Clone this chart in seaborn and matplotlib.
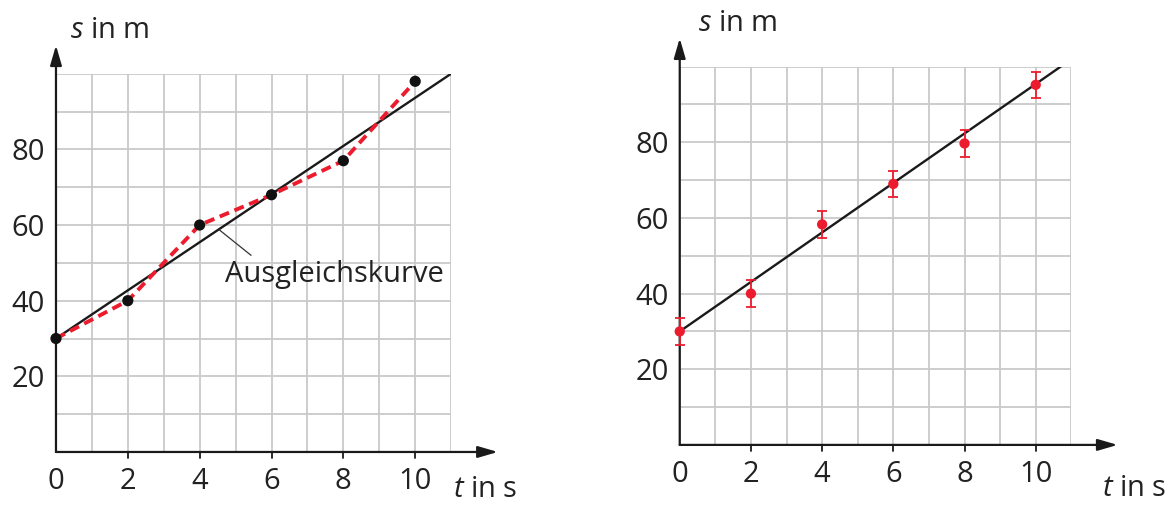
import matplotlib
matplotlib.use("Agg")
import matplotlib.pyplot as plt
import seaborn as sns
import pandas as pd

# left chart: measured points and straight fit
t_left = [0, 2, 4, 6, 8, 10]
s_left = [30, 40, 60, 68, 77, 98]
fit_left_t = [0, 11]
fit_left_s = [30, 100]

# right chart: points with error bars and fit
t_right = [0, 2, 4, 6, 8, 10]
s_right = [30, 40, 58.3, 69, 79.7, 95.2]
err_right = [3.5, 3.5, 3.5, 3.5, 3.5, 3.5]
fit_right_t = [0, 10.7]
fit_right_s = [30, 100]

x_ticks = [0, 2, 4, 6, 8, 10]
y_ticks = [20, 40, 60, 80]

RED = "#ec1c2e"
GRID = "#c9c9c9"
INK = "#222222"
FS = 21

sns.set_style("white")
plt.rcParams["font.family"] = ["Open Sans", "DejaVu Sans"]
plt.rcParams["mathtext.fontset"] = "custom"
plt.rcParams["mathtext.rm"] = "Open Sans"
plt.rcParams["mathtext.it"] = "Open Sans:italic"


def style_axes(ax, s_label_pos, t_label_pos):
    ax.set_xlim(0, 11)
    ax.set_ylim(0, 100)
    ax.set_xticks(range(0, 12), minor=True)
    ax.set_yticks(range(0, 101, 10), minor=True)
    ax.set_xticks(x_ticks)
    ax.set_yticks(y_ticks)
    ax.grid(which="both", color=GRID, linewidth=1.3, zorder=0)
    ax.set_axisbelow(True)
    for side in ["top", "right", "left", "bottom"]:
        ax.spines[side].set_visible(False)
    ax.tick_params(which="minor", length=0)
    ax.tick_params(axis="x", which="major", direction="out", length=0,
                   labelsize=FS, pad=11, colors=INK)
    ax.tick_params(axis="y", which="major", direction="out", length=6,
                   width=1.3, labelsize=FS, pad=2, colors=INK)
    ax.set_xlabel("")
    ax.set_ylabel("")
    # axes with arrow heads
    ax.annotate("", xy=(12.3, 0), xytext=(0, 0), annotation_clip=False,
                arrowprops=dict(arrowstyle="-|>,head_length=1.2,head_width=0.35",
                                color="#1a1a1a", lw=1.6, shrinkA=0, shrinkB=0))
    ax.annotate("", xy=(0, 107.5), xytext=(0, 0), annotation_clip=False,
                arrowprops=dict(arrowstyle="-|>,head_length=1.2,head_width=0.35",
                                color="#1a1a1a", lw=1.6, shrinkA=0, shrinkB=0))
    # small downward ticks on the time axis
    for x in x_ticks[1:]:
        ax.plot([x, x], [0, -1.6], color="#1a1a1a", lw=1.3, clip_on=False)
    ax.text(*s_label_pos, "$s$ in m", fontsize=FS, ha="left", va="center",
            clip_on=False, color=INK)
    ax.text(*t_label_pos, "$t$ in s", fontsize=FS, ha="left", va="center",
            clip_on=False, color=INK)


fig = plt.figure(figsize=(11.76, 5.05), dpi=100)
ax1 = fig.add_axes([0.0476, 0.105, 0.336, 0.749])
ax2 = fig.add_axes([0.578, 0.119, 0.333, 0.749])

df_left = pd.DataFrame({"t": t_left, "s": s_left})
df_fit_left = pd.DataFrame({"t": fit_left_t, "s": fit_left_s})
df_right = pd.DataFrame({"t": t_right, "s": s_right})
df_fit_right = pd.DataFrame({"t": fit_right_t, "s": fit_right_s})

# left panel
sns.lineplot(data=df_fit_left, x="t", y="s", ax=ax1, color="#1a1a1a", lw=1.7, zorder=3)
sns.lineplot(data=df_left, x="t", y="s", ax=ax1, color=RED, lw=2.8,
             linestyle=(0, (2.6, 1.5)), zorder=4)
sns.scatterplot(data=df_left, x="t", y="s", ax=ax1, color="#111111", s=65,
                edgecolor="none", zorder=5, clip_on=False)
ax1.annotate("Ausgleichskurve", xy=(4.55, 58.7), xytext=(4.7, 47),
             fontsize=FS, color=INK, ha="left", va="center",
             arrowprops=dict(arrowstyle="-", color="#333333", lw=0.9,
                             shrinkA=0, shrinkB=0,
                             relpos=(0.12, 1.15)))
style_axes(ax1, (0.4, 111.5), (11.05, -9.8))

# right panel
sns.lineplot(data=df_fit_right, x="t", y="s", ax=ax2, color="#1a1a1a", lw=1.7, zorder=3)
ax2.errorbar(t_right, s_right, yerr=err_right, fmt="none", ecolor=RED,
             elinewidth=1.3, capsize=3.5, capthick=1.3, zorder=4, clip_on=False)
sns.scatterplot(data=df_right, x="t", y="s", ax=ax2, color=RED, s=55,
                edgecolor="none", zorder=5, clip_on=False)
style_axes(ax2, (0.5, 111.5), (11.85, -11.5))

fig.savefig("out.png", dpi=100)
